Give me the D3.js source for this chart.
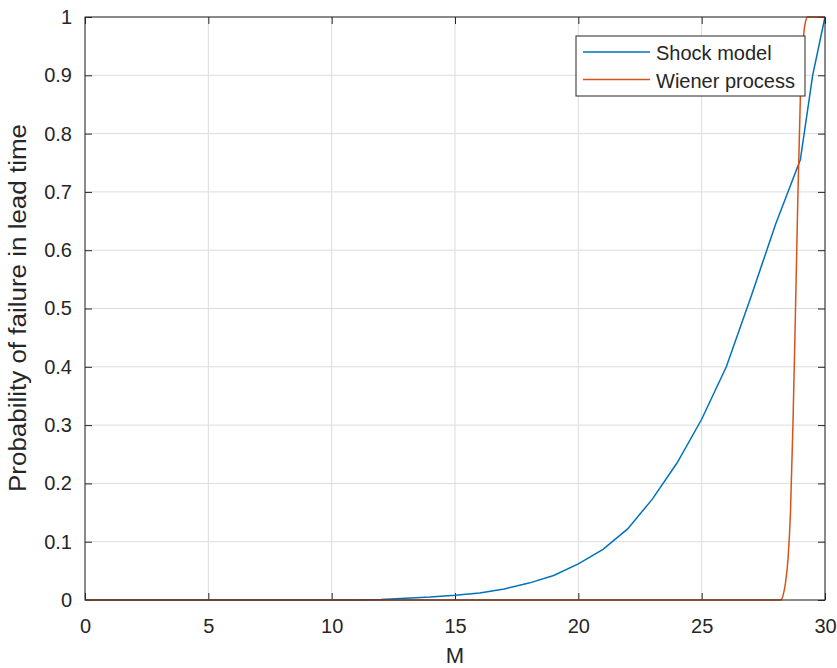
<!DOCTYPE html>
<html>
<head>
<meta charset="utf-8">
<script src="https://cdn.jsdelivr.net/npm/d3@7"></script>
<style>
  html, body { margin: 0; padding: 0; background: #fff; }
  svg { display: block; }
  text { font-family: "Liberation Sans", Arial, sans-serif; fill: #262626; }
</style>
</head>
<body>
<svg id="chart" width="837" height="668"></svg>
<script>
// ---- data ----
const shockM = [0, 1, 2, 3, 4, 5, 6, 7, 8, 9, 10, 11, 12, 13, 14, 15, 16, 17, 18, 19, 20, 21, 22, 23, 24, 25, 26, 27, 28, 29, 29.5, 30];
const shockP = [0, 0, 0, 0, 0, 0, 0, 0, 0, 0, 0, 0, 0.001, 0.003, 0.005, 0.008, 0.012, 0.019, 0.029, 0.042, 0.062, 0.087, 0.122, 0.173, 0.235, 0.31, 0.40, 0.52, 0.645, 0.755, 0.9, 1.0];
const wienerM = [0, 28.2, 28.3, 28.4, 28.5, 28.6, 28.7, 28.8, 28.9, 29.0, 29.1, 29.2, 29.3, 30];
const wienerP = [0, 0, 0.008, 0.03, 0.07, 0.15, 0.3, 0.49, 0.69, 0.86, 0.95, 0.99, 1.0, 1.0];
const xTicks = [0, 5, 10, 15, 20, 25, 30];
const yTicks = [0, 0.1, 0.2, 0.3, 0.4, 0.5, 0.6, 0.7, 0.8, 0.9, 1];
const seriesNames = ["Shock model", "Wiener process"];
const seriesColors = ["#0072BD", "#D95319"];
const xLabel = "M";
const yLabel = "Probability of failure in lead time";

// ---- layout ----
const L = 85, R = 825, T = 17, B = 600;
const svg = d3.select("#chart");
const x = d3.scaleLinear().domain([0, 30]).range([L, R]);
const y = d3.scaleLinear().domain([0, 1]).range([B, T]);

// grid
const grid = svg.append("g");
grid.selectAll("line.vx").data(xTicks).join("line")
  .attr("x1", d => x(d)).attr("x2", d => x(d)).attr("y1", T).attr("y2", B)
  .attr("stroke", "#dcdcdc").attr("stroke-width", 1);
grid.selectAll("line.hy").data(yTicks).join("line")
  .attr("y1", d => y(d)).attr("y2", d => y(d)).attr("x1", L).attr("x2", R)
  .attr("stroke", "#dcdcdc").attr("stroke-width", 1);

// axes (ticks inward)
const tickLen = 7;
const fmtY = d => d === 0 ? "0" : d === 1 ? "1" : d3.format(".1f")(d);
const axB = svg.append("g").attr("transform", `translate(0,${B})`)
  .call(d3.axisBottom(x).tickValues(xTicks).tickSizeInner(-tickLen).tickSizeOuter(0).tickPadding(19).tickFormat(d3.format("d")));
const axL = svg.append("g").attr("transform", `translate(${L},0)`)
  .call(d3.axisLeft(y).tickValues(yTicks).tickSizeInner(-tickLen).tickSizeOuter(0).tickPadding(13).tickFormat(fmtY));
const axT = svg.append("g").attr("transform", `translate(0,${T})`)
  .call(d3.axisTop(x).tickValues(xTicks).tickSizeInner(-tickLen).tickSizeOuter(0).tickFormat(""));
const axR = svg.append("g").attr("transform", `translate(${R},0)`)
  .call(d3.axisRight(y).tickValues(yTicks).tickSizeInner(-tickLen).tickSizeOuter(0).tickFormat(""));
[axB, axL, axT, axR].forEach(a => {
  a.select(".domain").remove();
  a.selectAll(".tick line").attr("stroke", "#262626").attr("stroke-width", 1);
  a.selectAll(".tick text").attr("font-size", 20).attr("fill", "#333")
    .attr("font-family", "'Liberation Sans', Arial, sans-serif");
});

// lines
const line = d3.line().x(d => x(d[0])).y(d => y(d[1]));
const shockData = shockM.map((m, i) => [m, shockP[i]]);
const wienerData = wienerM.map((m, i) => [m, wienerP[i]]);
svg.append("path").datum(shockData).attr("d", line)
  .attr("fill", "none").attr("stroke", seriesColors[0]).attr("stroke-width", 1.5);
svg.append("path").datum(wienerData).attr("d", d3.line().x(d => x(d[0])).y(d => y(d[1])).curve(d3.curveMonotoneX))
  .attr("fill", "none").attr("stroke", seriesColors[1]).attr("stroke-width", 1.5);

// box
svg.append("rect").attr("x", L).attr("y", T).attr("width", R - L).attr("height", B - T)
  .attr("fill", "none").attr("stroke", "#262626").attr("stroke-width", 1);

// axis labels
svg.append("text").attr("x", x(15)).attr("y", 663).attr("text-anchor", "middle")
  .attr("font-size", 22).attr("fill", "#333").text(xLabel);
svg.append("text").attr("transform", `translate(26,308) rotate(-90)`)
  .attr("text-anchor", "middle").attr("font-size", 23).attr("fill", "#333")
  .attr("textLength", 368).attr("lengthAdjust", "spacingAndGlyphs").text(yLabel);

// legend
const lg = svg.append("g");
lg.append("rect").attr("x", 576).attr("y", 36).attr("width", 229).attr("height", 60)
  .attr("fill", "#fff").attr("stroke", "#262626").attr("stroke-width", 1);
seriesNames.forEach((n, i) => {
  const cy = 52 + i * 27.5;
  lg.append("line").attr("x1", 583).attr("x2", 650).attr("y1", cy).attr("y2", cy)
    .attr("stroke", seriesColors[i]).attr("stroke-width", 1.5);
  lg.append("text").attr("x", 656).attr("y", cy + 8).attr("font-size", 20).attr("fill", "#333").text(n);
});
</script>
</body>
</html>
